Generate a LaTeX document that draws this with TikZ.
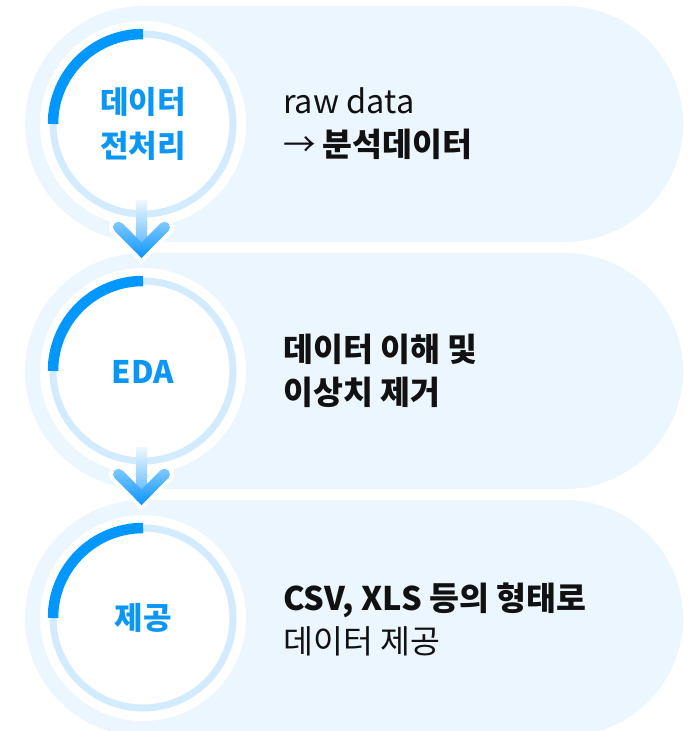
\documentclass[tikz,border=0pt]{standalone}
\usepackage{fontspec}
\newfontfamily\kr{Noto Sans CJK KR}
\definecolor{pale}{HTML}{ECF6FF}
\definecolor{ringc}{HTML}{D2EBFF}
\definecolor{arcblue}{HTML}{0098FF}
\definecolor{txtblue}{HTML}{0A96F5}
\definecolor{txtdark}{HTML}{111111}
\definecolor{chevtop}{HTML}{80C8FF}
\definecolor{chevbot}{HTML}{0A95FF}
\definecolor{stemtop}{HTML}{EEF7FF}
\definecolor{stembot}{HTML}{62BAFF}
\tikzset{
  pill/.style={fill=pale, rounded corners=118pt},
  innerdisc/.style={fill=white},
  ringline/.style={draw=ringc, line width=7pt},
  arcline/.style={draw=arcblue, line width=10.5pt, line cap=butt},
  circtext/.style={font=\kr\bfseries\fontsize{31}{44}\selectfont, text=txtblue, align=center, inner sep=0pt},
  sidetext/.style={font=\kr\fontsize{32.5}{43}\selectfont, text=txtdark, align=left, anchor=west, inner sep=0pt},
}
\begin{document}
\begin{tikzpicture}[x=1pt,y=-1pt]
\useasboundingbox (0,0) rectangle (692,731);
\clip (0,0) rectangle (692,731);
% pills
\foreach \cy/\nm in {124/p1,371/p2,618/p3}{
  \fill[pill] (25,\cy-118) rectangle (683,\cy+118);
}
% circles
\foreach \cy/\nm in {124/c1,371/c2,618/c3}{
  \fill[innerdisc] (143,\cy) circle (103pt);
  \draw[ringline] (143,\cy) circle (90pt);
  \draw[arcline] (53,\cy) arc[start angle=180, end angle=90, radius=90pt];
  \coordinate (\nm) at (143,\cy);
}
% arrows
\foreach \tip/\top in {258/200,505/447}{
  \pgfmathsetmacro{\vy}{\tip-7.8}
  \draw[white, line width=19pt, line cap=round, line join=miter]
     (141.5-23,\vy-23) -- (141.5,\vy) -- (141.5+23,\vy-23);
  \shade[top color=stemtop, bottom color=stembot] (136,\top) rectangle (147,\vy-4);
  \shade[top color=chevtop, bottom color=chevbot]
     (141.5,\tip) -- (141.5+26.89,\vy-19.11) -- (141.5+19.11,\vy-26.89)
     -- (141.5,\vy-7.78) -- (141.5-19.11,\vy-26.89) -- (141.5-26.89,\vy-19.11) -- cycle
     (141.5-23,\vy-23) circle (5.5pt)
     (141.5+23,\vy-23) circle (5.5pt);
}
% circle texts
\node[circtext] (t1) at (143,124) {데이터\\전처리};
\node[circtext] (t2) at (143,372) {EDA};
\node[circtext] (t3) at (143,618) {제공};
% side texts
\node[sidetext] (s1) at (283,124) {raw data\\→ {\bfseries 분석데이터}};
\node[sidetext] (s2) at (283,371) {\bfseries 데이터 이해 및\\\bfseries 이상치 제거};
\node[sidetext] (s3) at (283,619) {{\bfseries CSV, XLS 등의 형태로}\\데이터 제공};
\end{tikzpicture}
\end{document}
